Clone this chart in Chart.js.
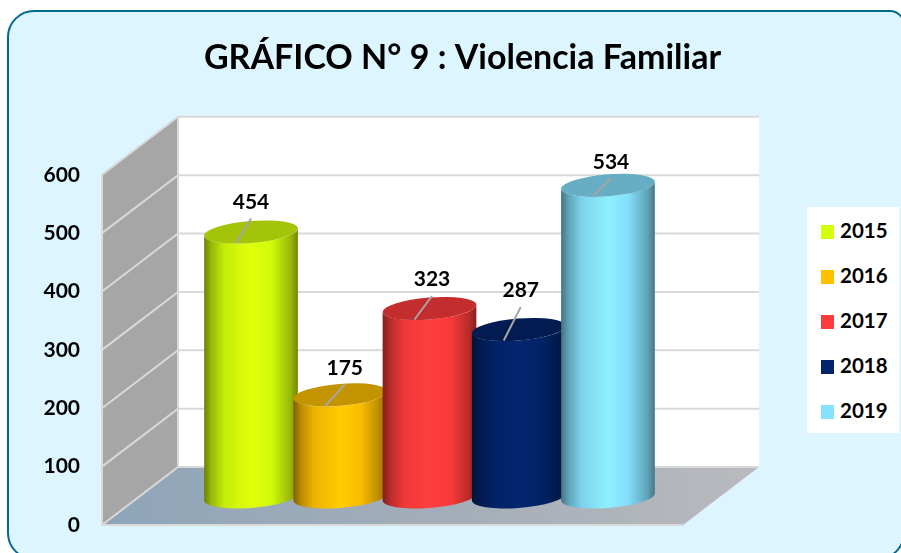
<!DOCTYPE html>
<html>
<head>
<meta charset="utf-8">
<title>Violencia Familiar</title>
<script src="https://cdn.jsdelivr.net/npm/chart.js@4"></script>
<style>
  html, body { margin: 0; padding: 0; background: #fff; width: 901px; height: 553px; overflow: hidden; }
  #panel { position: absolute; left: 7px; top: 10px; width: 898px; height: 550px; box-sizing: border-box;
           border: 2px solid #006a8c; border-radius: 27px 15px 27px 27px; background: #dcf5ff; }
  #chart { position: absolute; left: 0; top: 0; }
  #legend { position: absolute; left: 807px; top: 207px; width: 92px; height: 226px; background: #fff; }
  .legend-item { position: absolute; left: 14px; height: 24px; line-height: 24px;
                 font: bold 20.5px Lato, sans-serif; color: #000; white-space: nowrap; }
  .legend-item i { display: inline-block; width: 13px; height: 14px; margin-right: 6px; vertical-align: -1px; }
</style>
</head>
<body>
<div id="panel"></div>
<canvas id="chart" width="901" height="553"></canvas>
<div id="legend"></div>
<script>
const years = ['2015', '2016', '2017', '2018', '2019'];
const casos = [454, 175, 323, 287, 534];
const colores = ['#d4ff0a', '#ffc000', '#ff3b3b', '#02246a', '#86e2ff'];
const yTicks = [0, 100, 200, 300, 400, 500, 600];

// how far each value label sits from its cylinder top (dx, lift)
const labelDx = [0, 4.5, 2.5, 2, 3];
const labelLift = [30, 27, 29, 39, 23];

// 3d box
const WALL_DX = 76, WALL_DY = 58;
const CYL_DX = 37, CYL_DY = 28;
const RX = 47, RY = 11, TILT = -0.08;

function shade(hex, f) {
  const n = parseInt(hex.slice(1), 16);
  const c = [n >> 16, (n >> 8) & 255, n & 255].map(v => Math.min(255, Math.round(v * f)));
  return `rgb(${c[0]},${c[1]},${c[2]})`;
}

function drawBox(chart) {
  const { ctx, chartArea: a, scales: { y } } = chart;
  const l = a.left, r = a.right, t = a.top, b = a.bottom;

  ctx.save();
  // back wall
  ctx.fillStyle = '#fff';
  ctx.fillRect(l + WALL_DX, t - WALL_DY, r - l, b - t);
  // side wall
  ctx.fillStyle = '#a6a6a6';
  ctx.beginPath();
  ctx.moveTo(l, t);
  ctx.lineTo(l + WALL_DX, t - WALL_DY);
  ctx.lineTo(l + WALL_DX, b - WALL_DY);
  ctx.lineTo(l, b);
  ctx.closePath();
  ctx.fill();
  // floor
  const g = ctx.createLinearGradient(l, b, r + WALL_DX, b - WALL_DY);
  g.addColorStop(0, '#8ea5b9');
  g.addColorStop(0.55, '#a5aeb8');
  g.addColorStop(1, '#b9babe');
  ctx.fillStyle = g;
  ctx.beginPath();
  ctx.moveTo(l, b);
  ctx.lineTo(l + WALL_DX, b - WALL_DY);
  ctx.lineTo(r + WALL_DX, b - WALL_DY);
  ctx.lineTo(r, b);
  ctx.closePath();
  ctx.fill();

  // grid lines
  ctx.strokeStyle = '#d9d9d9';
  ctx.lineWidth = 2;
  yTicks.forEach(v => {
    const py = y.getPixelForValue(v);
    ctx.beginPath();
    ctx.moveTo(l, py);
    ctx.lineTo(l + WALL_DX, py - WALL_DY);
    ctx.lineTo(r + WALL_DX, py - WALL_DY);
    ctx.stroke();
  });
  ctx.beginPath();
  ctx.moveTo(l, t);
  ctx.lineTo(l, b);
  ctx.lineTo(r, b);
  ctx.moveTo(l + WALL_DX, t - WALL_DY);
  ctx.lineTo(l + WALL_DX, b - WALL_DY);
  ctx.stroke();
  ctx.restore();
}

function drawCylinder(ctx, el, color) {
  const cx = el.x + CYL_DX;
  const top = el.y - CYL_DY;
  const base = el.base - CYL_DY;
  const t0 = Math.atan2(-RY * Math.sin(TILT), RX * Math.cos(TILT));

  const g = ctx.createLinearGradient(cx - RX, 0, cx + RX, 0);
  g.addColorStop(0, shade(color, 0.5));
  g.addColorStop(0.08, shade(color, 0.72));
  g.addColorStop(0.22, shade(color, 0.93));
  g.addColorStop(0.5, shade(color, 1.06));
  g.addColorStop(0.72, shade(color, 0.98));
  g.addColorStop(0.92, shade(color, 0.72));
  g.addColorStop(1, shade(color, 0.52));

  ctx.save();
  ctx.fillStyle = g;
  ctx.beginPath();
  ctx.ellipse(cx, base, RX, RY, TILT, t0, t0 + Math.PI, false);
  ctx.ellipse(cx, top, RX, RY, TILT, t0 + Math.PI, t0, true);
  ctx.closePath();
  ctx.fill();

  ctx.fillStyle = shade(color, 0.77);
  ctx.beginPath();
  ctx.ellipse(cx, top, RX, RY, TILT, 0, Math.PI * 2);
  ctx.fill();
  ctx.restore();
}

function drawValueLabel(ctx, el, i) {
  const cx = el.x + CYL_DX;
  const capY = el.y - CYL_DY;
  const lx = cx + labelDx[i];
  const ly = capY - labelLift[i];

  ctx.save();
  ctx.strokeStyle = '#a6a6a6';
  ctx.lineWidth = 2;
  ctx.beginPath();
  ctx.moveTo(cx - 15, capY + 11);
  ctx.lineTo(lx, ly + 16.5);
  ctx.stroke();
  ctx.fillStyle = '#000';
  ctx.font = 'bold 21px Lato, sans-serif';
  ctx.textAlign = 'center';
  ctx.textBaseline = 'middle';
  ctx.fillText(casos[i], lx, ly);
  ctx.restore();
}

const cylinderPlugin = {
  id: 'cylinders',
  afterLayout(chart) {
    // title centred over the panel, not over the plot
    chart.titleBlock.left = 24;
    chart.titleBlock.right = 901;
  },
  beforeDatasetsDraw(chart) {
    drawBox(chart);
    years.forEach((_, i) => {
      drawCylinder(chart.ctx, chart.getDatasetMeta(i).data[0], colores[i]);
    });
  },
  beforeDatasetDraw() {
    return false; // the flat bars are replaced by the cylinders
  },
  afterDatasetsDraw(chart) {
    years.forEach((_, i) => drawValueLabel(chart.ctx, chart.getDatasetMeta(i).data[0], i));
  }
};

new Chart(document.getElementById('chart'), {
  type: 'bar',
  data: {
    labels: [''],
    datasets: years.map((y, i) => ({
      label: y,
      data: [casos[i]],
      backgroundColor: colores[i],
      barPercentage: 1,
      categoryPercentage: 0.768
    }))
  },
  options: {
    responsive: false,
    animation: false,
    layout: { padding: { left: 0, right: 218, top: 0, bottom: 28 } },
    plugins: {
      legend: { display: false },
      tooltip: { enabled: false },
      title: {
        display: true,
        text: 'GRÁFICO N° 9 : Violencia Familiar',
        color: '#000',
        font: { family: 'Lato, sans-serif', size: 34, weight: 'bold' },
        padding: { top: 38, bottom: 96 }
      }
    },
    scales: {
      x: { display: false },
      y: {
        min: 0,
        max: 600,
        afterFit(scale) {
          scale.width = 102;
          scale.paddingTop = 0;
          scale.paddingBottom = 0;
        },
        afterBuildTicks(scale) { scale.ticks = yTicks.map(v => ({ value: v })); },
        grid: { display: false, drawTicks: false },
        border: { display: false },
        ticks: {
          padding: 22,
          color: '#000',
          font: { family: 'Lato, sans-serif', size: 21, weight: 'bold' }
        }
      }
    }
  },
  plugins: [cylinderPlugin]
});

// legend box
const legendEl = document.getElementById('legend');
legendEl.innerHTML = years.map((y, i) => `
  <div class="legend-item" style="top:${11 + i * 45}px"><i style="background:${colores[i]}"></i>${y}</div>
`).join('');
</script>
</body>
</html>
